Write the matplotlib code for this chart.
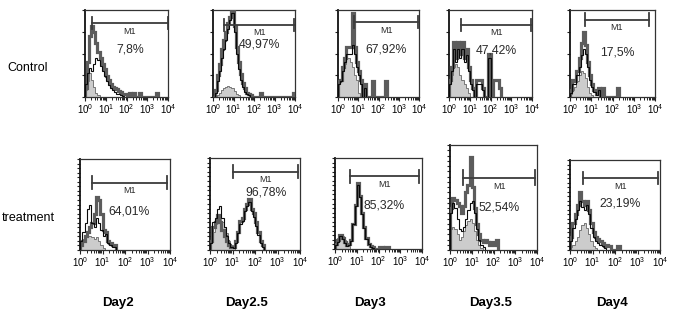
import numpy as np
import matplotlib.pyplot as plt
from matplotlib.ticker import LogLocator, NullFormatter, MultipleLocator

plt.rcParams['font.family'] = ['Liberation Sans', 'DejaVu Sans']

# histogram counts, 10 bins per decade starting at 10^0 (height in % of panel)
# order: Control Day2..Day4, then treatment Day2..Day4
fill_counts = [
    [8, 18, 28, 20, 12, 5, 2],
    [0, 0, 2, 5, 8, 10, 12, 13, 12, 10, 7, 4, 2],
    [20, 20, 30, 38, 45, 45, 40, 35, 25, 20, 5],
    [15, 25, 35, 38, 35, 25, 20, 15, 10, 5],
    [3, 8, 12, 18, 25, 30, 28, 22, 12, 5, 2],
    [8, 12, 14, 15, 15, 14, 12, 14, 10, 5, 2],
    [10, 20, 28, 32, 34, 30, 25, 18, 10, 5, 2],
    [8, 12, 15, 14, 10, 6, 3],
    [20, 22, 20, 15, 10, 12, 18, 24, 28, 30, 26, 18, 10, 5, 2],
    [3, 6, 10, 15, 22, 28, 30, 25, 18, 10, 5, 2],
]
gray_counts = [
    [10, 40, 70, 82, 75, 62, 52, 45, 38, 32, 24, 19, 15, 12, 10, 9, 7, 6, 4, 3,
     2, 5, 0, 5, 0, 0, 5, 0, 0, 0, 0, 0, 0, 0, 5],
    [0, 8, 25, 38, 55, 65, 75, 85, 92, 100, 82, 58, 40, 26, 16, 10, 5, 3, 2, 0,
     0, 0, 0, 5, 0, 0, 0, 0, 0, 0, 0, 0, 0, 0, 0, 0, 0, 0, 0, 5],
    [18, 20, 35, 45, 58, 58, 58, 96, 58, 40, 30, 20, 0, 15, 0, 0, 0, 18, 0, 0,
     0, 0, 0, 18],
    [20, 35, 63, 45, 63, 50, 63, 45, 55, 35, 20, 10, 0, 20, 20, 20, 10, 0, 0, 50,
     0, 20, 20, 20, 10],
    [8, 20, 18, 30, 45, 62, 75, 60, 40, 25, 15, 8, 3, 10, 0, 10, 0, 0, 0, 0,
     0, 0, 10],
    [5, 10, 15, 20, 25, 30, 40, 58, 55, 40, 22, 20, 10, 8, 5, 5],
    [10, 25, 30, 38, 30, 22, 15, 10, 5, 3, 3, 10, 20, 32, 35, 45, 50, 55, 45, 40,
     30, 20, 10, 5],
    [5, 10, 15, 12, 8, 4, 5, 10, 28, 48, 72, 58, 40, 24, 12, 6, 3, 2, 0, 0,
     2, 2, 0, 2, 2],
    [40, 50, 48, 45, 42, 35, 42, 55, 62, 89, 60, 40, 25, 15, 10, 8, 10, 8, 5, 8,
     5, 10],
    [15, 30, 40, 50, 65, 55, 50, 55, 45, 30, 20, 15, 12, 10, 8, 5, 6, 4, 0, 0,
     0, 4],
]
black_counts = [
    [15, 28, 33, 30, 38, 45, 42, 36, 30, 24, 18, 14, 10, 8, 6, 4, 3, 2, 1],
    [0, 5, 18, 30, 45, 55, 65, 78, 88, 96, 75, 50, 32, 20, 12, 6, 3, 2],
    [15, 18, 30, 40, 50, 50, 50, 60, 50, 35, 25, 15, 0, 10],
    [15, 30, 55, 40, 55, 45, 55, 40, 48, 30, 15, 8, 0, 15, 15, 15, 8, 0, 0, 45],
    [5, 15, 15, 25, 35, 48, 55, 50, 35, 20, 12, 6, 2, 8],
    [10, 20, 30, 45, 50, 30, 25, 35, 30, 22, 15, 18, 8, 5, 3, 3],
    [8, 30, 35, 45, 48, 35, 25, 15, 8, 3, 2, 8, 18, 28, 32, 42, 48, 52, 42, 36,
     26, 16, 8, 3],
    [4, 8, 14, 11, 7, 3, 4, 9, 27, 47, 70, 57, 39, 23, 11, 5, 2, 1],
    [35, 45, 40, 30, 20, 18, 22, 30, 38, 45, 47, 35, 20, 10, 5, 3],
    [10, 25, 35, 45, 55, 48, 45, 50, 40, 25, 15, 10, 8, 6, 4, 2],
]

# M1 gate (log10 start, log10 end, height %) and the percentage inside
gate_lo = [0.32, 0.52, 0.80, 0.60, 0.70, 0.52, 1.04, 0.69, 0.62, 0.56]
gate_hi = [4.00, 3.97, 3.97, 3.94, 3.72, 3.85, 3.90, 3.85, 3.90, 3.93]
gate_y = [85, 83, 86, 83, 89, 74, 85, 80, 69, 80]
pct_labels = ['7,8%', '49,97%', '67,92%', '47,42%', '17,5%',
              '64,01%', '96,78%', '85,32%', '52,54%', '23,19%']
pct_y = [55, 60, 55, 54, 51, 42, 63, 48, 40, 52]

row_labels = ['Control', 'treatment']
col_labels = ['Day2', 'Day2.5', 'Day3', 'Day3.5', 'Day4']

# panel boxes in pixels (left, top, right, bottom)
boxes = [(85, 10, 168, 97), (213, 10, 295, 97), (338, 10, 419, 97),
         (449, 10, 532, 97), (570, 10, 655, 97),
         (80, 159, 170, 250), (210, 158, 300, 250), (335, 158, 422, 249),
         (450, 145, 537, 250), (570, 160, 660, 250)]

W, H = 679, 322
fig = plt.figure(figsize=(W / 100, H / 100), dpi=100)

for i, (l, t, r, b) in enumerate(boxes):
    ax = fig.add_axes([l / W, 1 - b / H, (r - l) / W, (b - t) / H])
    ax.set_xscale('log')

    fc = fill_counts[i]
    e = 10 ** (np.arange(len(fc) + 1) / 10)
    ax.stairs(fc, e, fill=True, color='#cccccc', zorder=1)
    ax.stairs(fc, e, color='#777777', lw=0.7, zorder=2)

    gc = gray_counts[i]
    e = 10 ** (np.arange(len(gc) + 1) / 10)
    ax.stairs(gc, e, color='#5c5c5c', lw=2.3, zorder=3)

    bc = black_counts[i]
    e = 10 ** (np.arange(len(bc) + 1) / 10)
    ax.stairs(bc, e, color='#0a0a0a', lw=0.8, zorder=4)

    # gate marker
    x0, x1, gy = 10 ** gate_lo[i], 10 ** gate_hi[i], gate_y[i]
    ax.plot([x0, x1], [gy, gy], color='#3c3c3c', lw=1.3, zorder=5)
    ax.plot([x0, x0], [gy - 7, gy + 7], color='#3c3c3c', lw=1.3, zorder=5)
    ax.plot([x1, x1], [gy - 7, gy + 7], color='#3c3c3c', lw=1.3, zorder=5)
    xc = 10 ** ((gate_lo[i] + gate_hi[i]) / 2)
    ax.text(xc, gy - 4, 'M1', fontsize=6.5, ha='center', va='top', color='#2a2a2a')
    ax.text(xc, pct_y[i], pct_labels[i], fontsize=8.8, ha='center', va='center',
            color='#2a2a2a')

    ax.set_xlim(1, 1e4)
    ax.set_ylim(0, 100)
    ax.xaxis.set_major_locator(LogLocator(base=10, numticks=6))
    ax.xaxis.set_minor_locator(LogLocator(base=10, subs=np.arange(2, 10), numticks=10))
    ax.xaxis.set_minor_formatter(NullFormatter())
    ax.yaxis.set_major_locator(MultipleLocator(25))
    if i >= 5:
        ax.yaxis.set_minor_locator(MultipleLocator(5))
    ax.set_yticklabels([])
    ax.tick_params(axis='x', labelsize=7, pad=1, length=3, width=0.8, color='#222222')
    ax.tick_params(axis='x', which='minor', length=2, width=0.6)
    ax.tick_params(axis='y', which='both', direction='out', length=2.5, width=0.8,
                   color='#222222')
    for s in ax.spines.values():
        s.set_color('#333333')
        s.set_linewidth(0.9)
    ax.spines['left'].set_linewidth(1.3)
    ax.spines['left'].set_color('#111111')

fig.text(28 / W, 1 - 68 / H, row_labels[0], fontsize=9, ha='center', va='center')
fig.text(28 / W, 1 - 218 / H, row_labels[1], fontsize=9, ha='center', va='center')
for x, lab in zip([118, 246, 370, 491, 612], col_labels):
    fig.text(x / W, 1 - 303 / H, lab, fontsize=9.5, fontweight='bold',
             ha='center', va='center')

fig.savefig('out.png', dpi=100)
